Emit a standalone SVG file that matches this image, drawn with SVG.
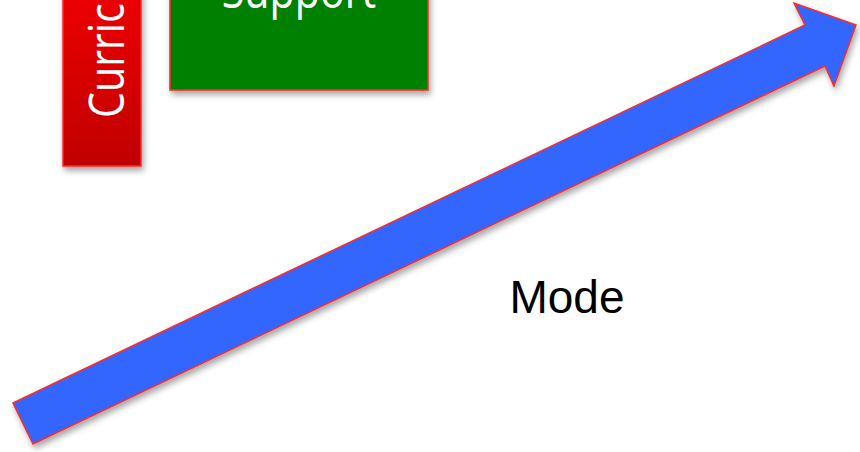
<svg xmlns="http://www.w3.org/2000/svg" width="860" height="452" viewBox="0 0 860 452">
<defs>
<linearGradient id="redGrad" x1="0" y1="0" x2="0" y2="1">
<stop offset="0" stop-color="#f00000"/>
<stop offset="1" stop-color="#c00000"/>
</linearGradient>
<filter id="shadow" x="-20%" y="-20%" width="140%" height="140%">
<feDropShadow dx="2" dy="4" stdDeviation="3" flood-color="#000" flood-opacity="0.35"/>
</filter>
<style>
.box{stroke:#ff2a2a;stroke-width:1.5;filter:url(#shadow)}
.label{font-family:"Open Sans","DejaVu Sans",sans-serif;fill:#fff;font-size:49px}
</style>
</defs>
<g id="curriculum">
<rect class="box" x="63" y="-20" width="78" height="186" fill="url(#redGrad)"/>
<text class="label" transform="translate(124,118) rotate(-90) scale(0.84,1)">Curriculum</text>
</g>
<g id="support">
<rect class="box" x="170" y="-20" width="258" height="110" fill="#008000"/>
<text class="label" transform="translate(299,8) scale(0.84,1)" text-anchor="middle">Support</text>
</g>
<g id="connectors">
<polygon class="box" fill="#3366ff" points="13,403 805,25 794,3 856,25 834,86 825,66 33,444"/>
</g>
<g id="mode">
<text x="567" y="313" font-family="Liberation Sans, Arial, sans-serif" font-size="46" text-anchor="middle" fill="#000">Mode</text>
</g>
</svg>
